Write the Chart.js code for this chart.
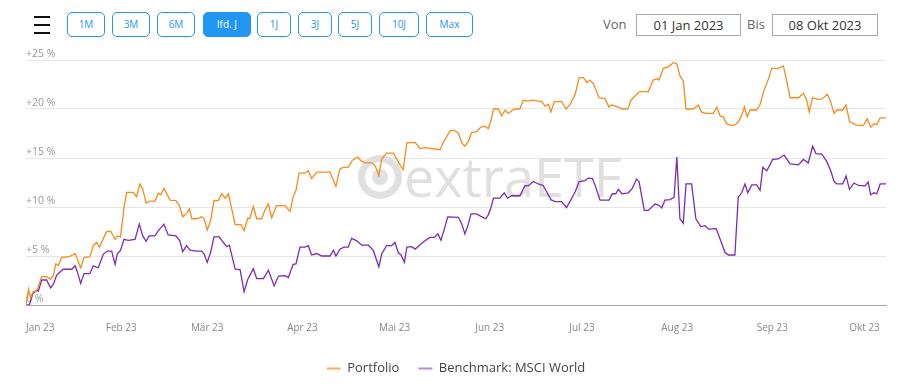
<!DOCTYPE html>
<html>
<head>
<meta charset="utf-8">
<script src="https://cdn.jsdelivr.net/npm/chart.js@4.4.0/dist/chart.umd.min.js"></script>
<style>
    body { margin: 0; width: 913px; height: 385px; overflow: hidden; background: #fff; font-family: 'Open Sans', sans-serif; position: relative; }
    .burger { position: absolute; left: 34px; width: 16px; height: 2px; background: #111; }
    .btn { position: absolute; top: 12px; height: 23px; border: 1px solid #2196f3; border-radius: 5px; color: #2196f3; font-size: 10px; line-height: 23px; text-align: center; box-sizing: content-box; }
    .btn.aktiv { background: #2196f3; color: #fff; }
    .lbl { position: absolute; top: 14px; font-size: 13px; color: #666; line-height: 21px; }
    .datum { position: absolute; top: 14px; height: 20px; border: 1px solid #aaa; font-size: 13px; color: #333; line-height: 20px; text-align: center; }
    #wrap { position: absolute; left: 0; top: 40px; width: 913px; height: 345px; }
</style>
</head>
<body>
<div class="burger" style="top:16px"></div>
<div class="burger" style="top:24px"></div>
<div class="burger" style="top:32px"></div>
<div class="btn" style="left:67px;width:36px">1M</div>
<div class="btn" style="left:112px;width:36px">3M</div>
<div class="btn" style="left:157px;width:36px">6M</div>
<div class="btn aktiv" style="left:203px;width:46px">lfd. J</div>
<div class="btn" style="left:257px;width:32px">1J</div>
<div class="btn" style="left:298px;width:32px">3J</div>
<div class="btn" style="left:338px;width:32px">5J</div>
<div class="btn" style="left:379px;width:38px">10J</div>
<div class="btn" style="left:426px;width:45px">Max</div>
<div class="lbl" style="left:603px">Von</div>
<div class="datum" style="left:636px;width:103px">01 Jan 2023</div>
<div class="lbl" style="left:747px">Bis</div>
<div class="datum" style="left:772px;width:104px">08 Okt 2023</div>
<div id="wrap"><canvas id="grafik"></canvas></div>
<script>
// Tage seit 01.01.2023, Werte in %
const portfolioTage = [0,0.8,1.5,2.4,3.5,5.1,6.7,8,8.9,9.7,10.5,11.6,13.8,16,17.8,18.9,20.8,21.9,23,23.9,25.2,26.3,27.6,29,29.7,30.8,31.9,32.8,34.9,36,37.1,38,39.1,40.4,42,43.1,43.9,44.9,46.9,48.8,49.9,51,52.3,53.2,54,55.6,57.2,58,59,60.1,61.2,62.6,63.7,64.8,65.9,68.1,70,71,72.2,72.9,74,75.1,76.7,77.8,78.9,80,81.6,84.3,86,87,87.9,88.9,90.8,91.9,93,94.7,99,100.9,102.2,103.3,104.9,106.2,108,109.1,110.4,112.6,113.6,114.9,115.8,117.4,119.6,121.2,122.8,124,126.7,128.3,129.9,134.8,135.9,138.1,139.7,140.8,141.9,142.9,144,145.1,146.7,148.1,149.4,150.5,151.4,152.2,153.8,154.9,156,157,159,160.8,161.9,163.4,164.7,167.9,169,170.1,170.9,172,174.4,175.8,177.1,178.8,180.1,181.5,182.6,183.6,184.7,186.6,188.5,189.8,190.7,192.9,194,195.9,197,198.8,199.9,202.6,204.2,205.4,206.1,207.5,209.1,210.8,211.9,212.9,214,214.9,217.3,218.9,220,221.6,223.8,224.9,226,227,228.1,229.2,230.8,231.9,233,233.9,234.8,235.7,237.9,239,240.1,241.7,242.8,244.9,246.6,248.8,251.5,253.1,254.2,255,256.1,257.4,259.1,260.9,261.8,263.1,264,265.9,267,268.1,269.4,270.5,272.6,273.9,275,276.1,277,278.1,280];
const portfolioWerte = [0,1.6,0.75,1.4,1.4,2.9,2.9,2.65,3.0,4.2,4.0,4.85,4.9,5.25,3.8,4.85,4.9,6.05,6.4,5.9,6.8,7.5,7.5,6.7,7.05,6.95,9.95,11.5,11.5,11.05,12.35,11.85,10.4,10.6,10.6,11.4,11.25,11.9,10.7,10.65,10.15,9.0,9.35,9.8,8.8,8.8,9.0,8.8,7.65,8.6,10.65,10.65,11.35,10.9,11.35,8.2,8.2,7.6,8.85,8.85,10.05,8.8,8.8,9.7,10.3,8.9,10.15,10.15,9.55,11.05,11.7,13.45,13.45,13.7,12.9,13.55,13.55,12.1,13.9,14.05,14.05,14.75,15.1,14.7,14.5,14.5,14.25,13.2,14.9,15.5,15.5,14.6,13.8,16.55,16.6,15.95,16.05,15.85,16.6,17.8,17.8,17.5,16.55,16.2,16.7,17.6,17.7,18.15,18.25,18.0,18.85,20.0,20.0,19.3,19.9,19.55,20.0,20.0,20.9,20.8,20.9,20.75,20.3,20.5,19.7,20.75,20.75,20.0,20.45,21.5,23.2,23.2,22.7,22.95,22.6,21.15,21.05,20.2,20.4,20.2,20.0,20.0,20.9,21.5,21.8,21.75,22.95,23.1,22.95,24.15,24.3,24.75,24.6,23.4,22.85,20.0,20.0,20.4,19.65,19.55,19.55,20.2,19.3,19.2,18.5,18.35,18.35,18.7,19.35,20.2,19.2,19.9,19.9,20.45,21.75,23.05,24.15,24.15,24.4,21.15,21.15,21.6,20.9,19.7,21.15,21.0,21.0,21.5,20.9,19.55,19.9,19.9,20.4,18.75,18.5,18.35,18.3,19.0,18.15,18.5,18.4,19.1,19.1];
const benchmarkTage = [0,1.1,2.2,3.5,4,5.1,6.7,8,8.9,10,12.1,14.9,16,16.7,17.8,18.9,20.8,21.9,23.5,25.2,26.5,27.9,29,29.7,30.8,31.9,33.3,35.5,36.9,38,39.1,40.1,42,43.1,44.9,46.3,48.8,50.1,51,52.3,53.4,55.6,57.2,58,59,60.1,61.2,62.9,64.2,65.4,66.2,68.1,69.7,71,72.2,74,75.1,77.3,78.9,80.8,82.2,84.3,85.4,87,87.9,89.2,90.8,91.9,93,94.7,96.3,99,100.1,100.9,102.2,103.6,104.9,106,107.7,109.3,111.5,113.1,113.9,114.9,115.8,117.4,119.1,120.1,121.2,122.1,123.2,124,125.6,126.7,128.3,129.9,131.5,132.9,134.1,135.1,136.2,137.3,140.8,141.9,142.9,144,144.9,146.7,148.1,149.7,150.5,151.4,152.2,154.3,155.7,156.8,158.1,160.8,162.5,163.5,165.2,166.8,168.4,170.9,172.2,174.4,176,177.7,178.8,180.1,182,183.1,184.4,185.3,186.9,189.8,190.9,192,192.9,194,196.1,197.4,198.8,199.6,201.3,202.6,204.8,205.9,207,208,209.7,211,211.9,212.9,214,214.9,216.7,218.1,219.7,221.1,222.2,224.7,226,227.6,228.7,230.8,231.9,233,234.1,235,236.3,237.9,239,239.9,241.2,243.1,244.9,246.8,248.8,251.5,253.1,254.7,256.1,257.2,259.1,260.7,262,263.1,264,265.9,267,268.1,269.6,271,273.2,274.2,275,276.1,277,278.1,280];
const benchmarkWerte = [0,0,1.15,1.5,1.4,2.55,2.55,1.75,2.1,3.05,3.65,3.65,4.0,3.4,2.2,3.2,3.2,4.0,3.8,5.2,5.5,5.5,4.15,5.2,5.6,6.7,6.6,6.7,8.25,7.05,6.5,7.05,7.05,7.6,8.25,7.15,7.05,6.55,5.45,6.05,5.6,5.5,5.5,5.2,4.35,5.35,6.95,6.95,6.4,5.95,6.1,3.65,3.6,1.35,2.6,3.7,2.7,2.7,3.55,1.95,2.95,3.0,2.8,4.15,4.2,5.9,5.9,6.05,5.1,5.25,5.0,5.0,5.6,5.0,5.7,5.9,5.9,6.8,6.55,6.1,6.1,5.55,4.8,3.9,5.2,6.05,6.05,6.4,5.35,5.1,4.35,5.9,5.95,5.7,6.15,6.55,6.9,6.9,7.25,6.6,7.75,9.0,8.95,8.25,7.25,8.25,9.3,9.3,9.05,8.8,9.2,9.95,10.9,10.9,11.45,10.9,11.15,11.15,12.2,12.15,12.6,12.35,12.2,10.75,10.55,10.55,9.95,10.9,11.55,12.6,12.7,12.95,12.9,12.2,10.7,10.7,11.35,11.35,11.8,11.35,11.45,11.9,12.85,12.6,9.65,9.65,10.3,10.2,9.9,10.7,10.75,11.0,15.1,8.8,8.35,12.35,12.35,8.8,8.0,8.1,7.75,7.8,6.7,5.35,5.1,5.1,11.0,11.45,12.35,11.45,12.25,12.25,11.7,14.05,13.7,14.85,14.9,15.3,14.4,14.3,14.85,14.5,16.2,15.45,15.4,14.65,13.7,12.6,12.35,12.35,13.15,11.8,12.45,12.2,12.15,12.55,11.25,11.45,11.35,12.35,12.35];

// Monatsanfänge (Tag) und Beschriftung der x-Achse; der letzte, leere Tick markiert das Ende (08.10.)
const monatsTage = [0, 31, 59, 90, 120, 151, 181, 212, 243, 273, 280];
const monatsNamen = ['Jan 23', 'Feb 23', 'Mär 23', 'Apr 23', 'Mai 23', 'Jun 23', 'Jul 23', 'Aug 23', 'Sep 23', 'Okt 23', ''];
const yTicks = [0, 5, 10, 15, 20, 25];

function punkte(tage, werte) {
    return tage.map(function(t, i) { return { x: t, y: werte[i] }; });
}

// Wasserzeichen "extraETF" hinter den Linien
const wasserzeichen = {
    id: 'wasserzeichen',
    beforeDatasetsDraw: function(chart) {
        const ctx = chart.ctx;
        const a = chart.chartArea;
        const cx = a.left + 354, cy = a.top + 117;
        ctx.save();
        ctx.strokeStyle = '#e0e0e0';
        ctx.fillStyle = '#e0e0e0';
        ctx.lineWidth = 7;
        ctx.beginPath();
        ctx.arc(cx, cy, 18.5, 0, Math.PI * 2);
        ctx.stroke();
        ctx.beginPath();
        ctx.arc(cx, cy, 8, 0, Math.PI * 2);
        ctx.fill();
        ctx.font = '54px "Open Sans", sans-serif';
        ctx.textBaseline = 'alphabetic';
        ctx.fillText('extraETF', cx + 24, cy + 20);
        ctx.restore();
    }
};

new Chart(document.getElementById('grafik'), {
    type: 'line',
    data: {
        datasets: [{
            label: 'Portfolio',
            data: punkte(portfolioTage, portfolioWerte),
            borderColor: '#f68b1f',
            backgroundColor: '#f7b06a',
            borderWidth: 1.3,
            pointRadius: 0,
            tension: 0
        }, {
            label: 'Benchmark: MSCI World',
            data: punkte(benchmarkTage, benchmarkWerte),
            borderColor: '#7b2cb3',
            backgroundColor: '#b88ad6',
            borderWidth: 1.3,
            pointRadius: 0,
            tension: 0
        }]
    },
    options: {
        responsive: true,
        maintainAspectRatio: false,
        animation: false,
        layout: { padding: { left: 26, right: 27, top: 20, bottom: 0 } },
        plugins: {
            tooltip: { enabled: false },
            legend: {
                position: 'bottom',
                labels: {
                    boxWidth: 14,
                    boxHeight: 2,
                    padding: 19,
                    color: '#444',
                    font: { family: "'Open Sans', sans-serif", size: 13 },
                    generateLabels: function(chart) {
                        const items = Chart.defaults.plugins.legend.labels.generateLabels(chart);
                        items.forEach(function(it) { it.lineWidth = 0; });
                        return items;
                    }
                }
            }
        },
        scales: {
            x: {
                type: 'linear',
                min: 0,
                max: 280,
                grid: { display: false },
                border: { color: '#a0a0a0' },
                afterBuildTicks: function(scale) {
                    scale.ticks = monatsTage.map(function(v) { return { value: v }; });
                },
                ticks: {
                    autoSkip: false,
                    maxRotation: 0,
                    align: 'inner',
                    padding: 9,
                    color: '#888',
                    font: { family: "'Open Sans', sans-serif", size: 10 },
                    callback: function(value, index) { return monatsNamen[index]; }
                }
            },
            y: {
                min: 0,
                max: 25,
                afterBuildTicks: function(scale) {
                    scale.ticks = yTicks.map(function(v) { return { value: v }; });
                },
                afterFit: function(scale) { scale.width = 0; },
                grid: { color: '#e6e6e6', drawTicks: false },
                border: { display: false },
                ticks: {
                    mirror: true,
                    padding: 0,
                    labelOffset: -6,
                    color: '#999',
                    font: { family: "'Open Sans', sans-serif", size: 10.5 },
                    callback: function(v) { return v === 0 ? '0 %' : '+' + v + ' %'; }
                }
            }
        }
    },
    plugins: [wasserzeichen]
});
</script>
</body>
</html>
